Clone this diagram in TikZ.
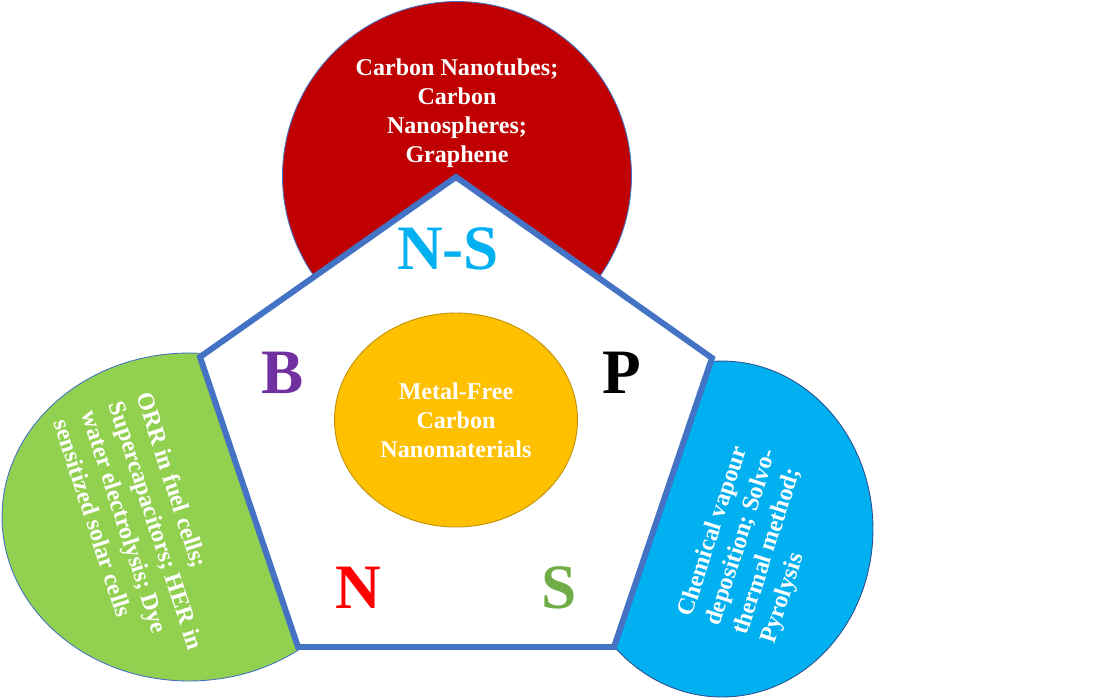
\documentclass[tikz,border=0pt]{standalone}
\usepackage{fontspec}
\setmainfont{Liberation Serif}
\usepackage{tikz}
\usetikzlibrary{shapes.geometric}
\usepackage{xcolor}
\definecolor{meuvermelho}{RGB}{192,0,0}
\definecolor{meuverdeclaro}{RGB}{146,208,80}
\definecolor{meuciano}{RGB}{0,176,240}
\definecolor{meularanja}{RGB}{255,192,0}
\definecolor{meularanjaescuro}{RGB}{191,144,0}
\definecolor{meuazul}{RGB}{68,114,196}
\definecolor{meuazulescuro}{RGB}{47,82,143}
\definecolor{meuroxo}{RGB}{112,48,160}
\definecolor{meuverde}{RGB}{112,173,71}

\begin{document}
\begin{tikzpicture}[x=0.02cm, y=-0.02cm,
        bolha/.style={ellipse, draw=meuazul, line width=0.5pt, inner sep=0pt, outer sep=0pt},
        rotulo/.style={text=white, inner sep=0pt, font=\fontsize{13.7}{16.5}\selectfont\bfseries},
        letra/.style={inner sep=0pt, font=\fontsize{36}{40}\selectfont\bfseries},
        lado/.style={draw=meuazul, line width=3.4pt, line join=miter, fill=white}
    ]
        \useasboundingbox (0,0) rectangle (1100,698);

        % bolhas de fundo
        \node[bolha, fill=meuvermelho, minimum width=6.98cm, minimum height=6.98cm] (c1) at (457,176) {};
        \node[bolha, fill=meuverdeclaro, minimum width=7.48cm, minimum height=6.56cm] (c2) at (189,517) {};
        \node[bolha, fill=meuciano, draw=meuazulescuro, minimum width=6.04cm, minimum height=6.72cm] (c3) at (722,529) {};

        % pentagono
        \coordinate (p1) at (456,177);
        \coordinate (p2) at (712,358);
        \coordinate (p3) at (614,647);
        \coordinate (p4) at (298,647);
        \coordinate (p5) at (200,357);
        \draw[lado] (p1) -- (p2) -- (p3) -- (p4) -- (p5) -- cycle;

        \node[bolha, fill=meularanja, draw=meularanjaescuro, minimum width=4.86cm, minimum height=4.28cm] (c0) at (456,420) {};

        \node[rotulo, align=center] (t0) at (c0) {Metal-Free\\Carbon\\Nanomaterials};
        \node[rotulo, align=center] (t1) at (457,113) {Carbon Nanotubes;\\Carbon\\Nanospheres;\\Graphene};
        \node[rotulo, align=left, rotate=-72] (t2) at (143,530) {ORR in fuel cells;\\Supercapacitors; HER in\\water electrolysis; Dye\\sensitized solar cells};
        \node[rotulo, align=left, rotate=72] (t3) at (756,542) {Chemical vapour\\deposition; Solvo-\\thermal method;\\Pyrolysis};

        \node[letra, text=meuciano] (ns) at (448,249) {N-S};
        \node[letra, text=meuroxo] (lb) at (283,373) {B};
        \node[letra, text=black] (lp) at (622,373) {P};
        \node[letra, text=red] (ln) at (358,588) {N};
        \node[letra, text=meuverde] (ls) at (559,588) {S};

    \end{tikzpicture}
\end{document}
